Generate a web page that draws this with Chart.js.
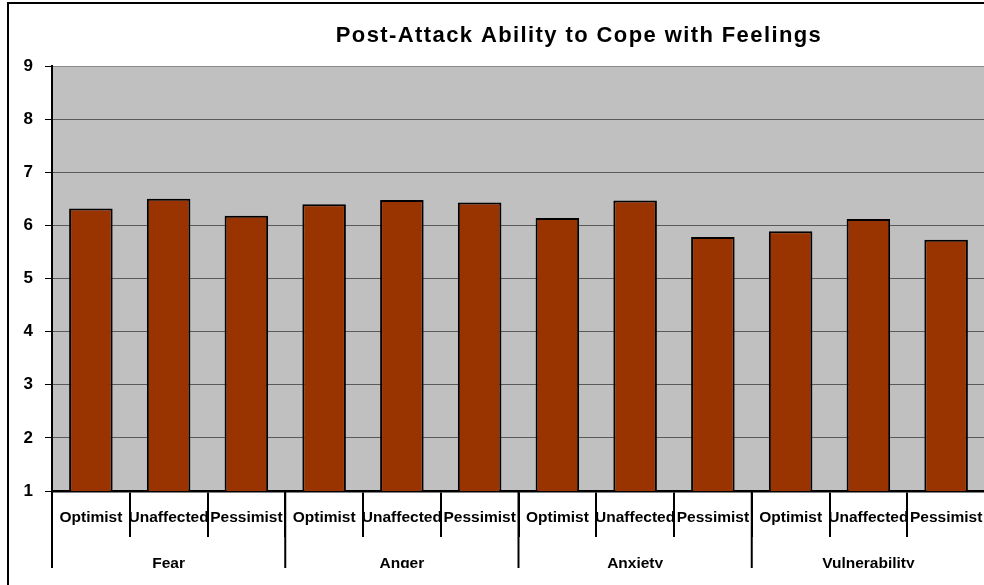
<!DOCTYPE html>
<html lang="en">
<head>
    <meta charset="UTF-8">
    <title>Post-Attack Ability to Cope with Feelings</title>
    <script src="https://cdn.jsdelivr.net/npm/chart.js"></script>
    <style>
        html, body {
            margin: 0;
            padding: 0;
            width: 984px;
            height: 585px;
            overflow: hidden;
            background: #fff;
        }
        #frame {
            position: absolute;
            left: 7px;
            top: 2px;
            width: 1200px;
            height: 800px;
            border-left: 2.5px solid #000;
            border-top: 2.5px solid #000;
        }
        #wrap {
            position: absolute;
            left: 0;
            top: 0;
            width: 1000px;
            height: 585px;
        }
    </style>
</head>
<body>
    <div id="frame"></div>
    <div id="wrap">
        <canvas id="chart"></canvas>
    </div>
    <script>
        // data
        var title = 'Post-Attack Ability to Cope with Feelings';
        var groups = ['Fear', 'Anger', 'Anxiety', 'Vulnerability'];
        var outlooks = ['Optimist', 'Unaffected', 'Pessimist'];
        var fear = [6.32, 6.50, 6.18];
        var anger = [6.40, 6.48, 6.43];
        var anxiety = [6.14, 6.47, 5.78];
        var vulnerability = [5.89, 6.12, 5.73];
        var yTicks = [1, 2, 3, 4, 5, 6, 7, 8, 9];

        var labels = [];
        groups.forEach(function() {
            outlooks.forEach(function(o) { labels.push(o); });
        });
        var values = fear.concat(anger, anxiety, vulnerability);

        // title + second row of category labels (the groups)
        var extras = {
            id: 'extras',
            afterDraw: function(chart) {
                var ctx = chart.ctx;
                var x = chart.scales.x;
                var area = chart.chartArea;
                var half = (x.getPixelForValue(1) - x.getPixelForValue(0)) / 2;
                var cut = 568;

                ctx.save();
                ctx.fillStyle = '#000';
                ctx.font = 'bold 22px "Liberation Sans", Arial, sans-serif';
                if ('letterSpacing' in ctx) ctx.letterSpacing = '1.4px';
                ctx.textAlign = 'center';
                ctx.textBaseline = 'alphabetic';
                ctx.fillText(title, 579, 42);
                ctx.restore();

                ctx.save();
                ctx.beginPath();
                ctx.rect(0, area.bottom, chart.width, cut - area.bottom);
                ctx.clip();
                ctx.strokeStyle = '#000';
                ctx.lineWidth = 2;
                ctx.fillStyle = '#000';
                ctx.font = 'bold 15.5px "Liberation Sans", Arial, sans-serif';
                ctx.textAlign = 'center';
                ctx.textBaseline = 'alphabetic';
                groups.forEach(function(g, i) {
                    var left = x.getPixelForValue(i * 3) - half;
                    var right = x.getPixelForValue(i * 3 + 2) + half;
                    ctx.beginPath();
                    ctx.moveTo(left, area.bottom);
                    ctx.lineTo(left, cut);
                    ctx.stroke();
                    ctx.fillText(g, (left + right) / 2, cut);
                });
                ctx.restore();
            }
        };

        var bgPlot = {
            id: 'bgPlot',
            beforeDraw: function(chart) {
                var a = chart.chartArea;
                chart.ctx.save();
                chart.ctx.fillStyle = '#c0c0c0';
                chart.ctx.fillRect(a.left, a.top, a.right - a.left, a.bottom - a.top);
                chart.ctx.restore();
            }
        };

        var ctx = document.getElementById('chart').getContext('2d');
        var chart = new Chart(ctx, {
            type: 'bar',
            data: {
                labels: labels,
                datasets: [{
                    label: 'Score',
                    data: values,
                    backgroundColor: '#993300',
                    borderColor: '#000',
                    borderWidth: 2,
                    categoryPercentage: 1,
                    barPercentage: 0.56
                }]
            },
            options: {
                responsive: true,
                maintainAspectRatio: false,
                animation: false,
                layout: {
                    padding: { top: 66, right: 15, bottom: 0, left: 0 }
                },
                plugins: {
                    legend: { display: false },
                    tooltip: { enabled: false },
                    title: { display: false }
                },
                scales: {
                    x: {
                        offset: true,
                        border: { display: true, color: '#000', width: 2.5 },
                        grid: {
                            offset: true,
                            drawOnChartArea: false,
                            drawTicks: true,
                            tickLength: 46,
                            color: '#000',
                            lineWidth: 2
                        },
                        ticks: {
                            autoSkip: false,
                            maxRotation: 0,
                            minRotation: 0,
                            padding: -29,
                            color: '#000',
                            font: { family: '"Liberation Sans", Arial, sans-serif', size: 15.5, weight: 'bold' }
                        },
                        afterFit: function(scale) { scale.height = 94; }
                    },
                    y: {
                        min: yTicks[0],
                        max: yTicks[yTicks.length - 1],
                        border: { display: true, color: '#000', width: 2 },
                        grid: {
                            color: function(c) { return c.tick.value === 9 ? '#8a8a8a' : '#5a5a5a'; },
                            lineWidth: 1,
                            tickColor: '#000',
                            tickLength: 7
                        },
                        afterBuildTicks: function(scale) {
                            scale.ticks = yTicks.map(function(v) { return { value: v }; });
                        },
                        ticks: {
                            padding: 12,
                            color: '#000',
                            font: { family: '"Liberation Sans", Arial, sans-serif', size: 17, weight: 'bold' }
                        },
                        afterFit: function(scale) { scale.width = 52; }
                    }
                }
            },
            plugins: [bgPlot, extras]
        });
    </script>
</body>
</html>
